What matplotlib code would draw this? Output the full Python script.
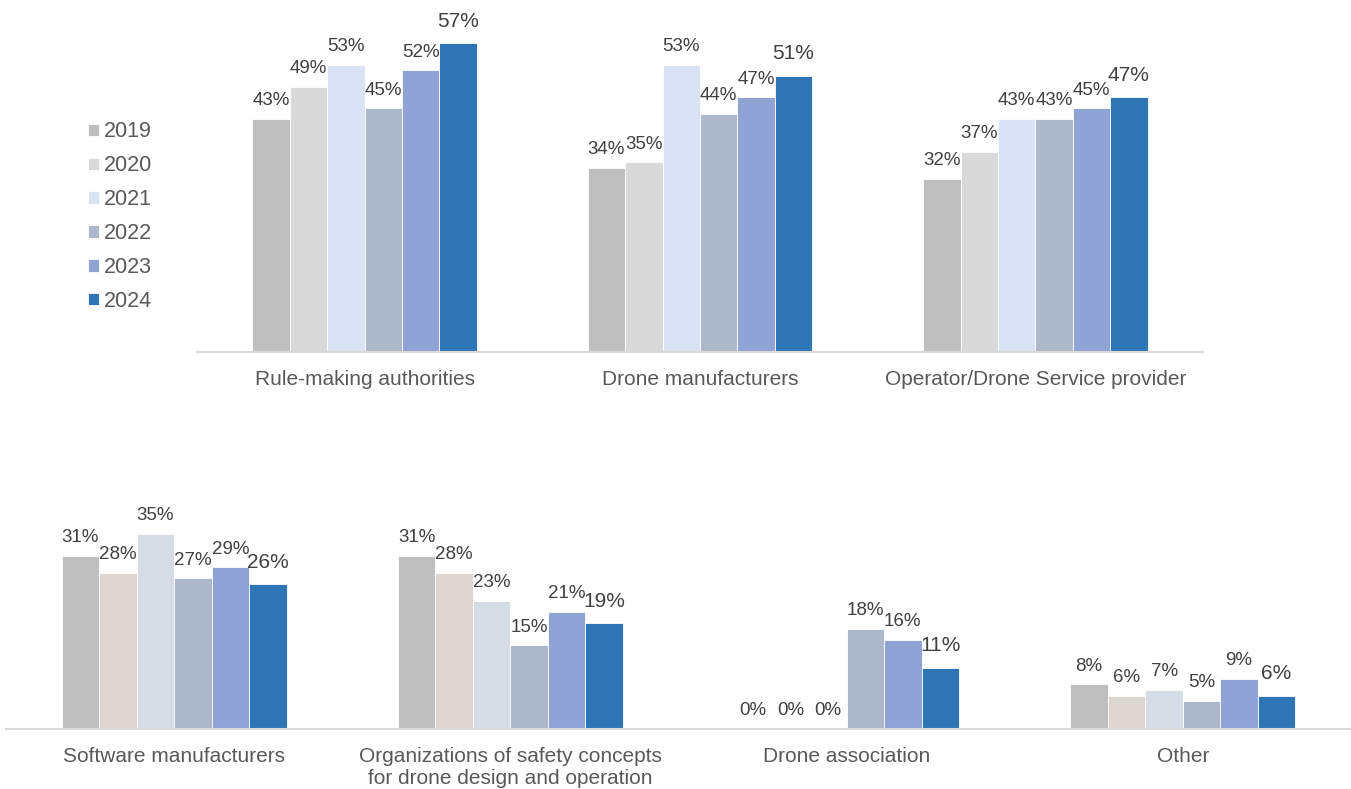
import matplotlib.pyplot as plt
import numpy as np

plt.rcParams['font.family'] = ['Liberation Sans', 'DejaVu Sans']

years = ["2019", "2020", "2021", "2022", "2023", "2024"]

top_cats = ["Rule-making authorities", "Drone manufacturers", "Operator/Drone Service provider"]
top_vals = {
    "2019": [43, 34, 32],
    "2020": [49, 35, 37],
    "2021": [53, 53, 43],
    "2022": [45, 44, 43],
    "2023": [52, 47, 45],
    "2024": [57, 51, 47],
}

bot_cats = ["Software manufacturers",
            "Organizations of safety concepts\nfor drone design and operation",
            "Drone association", "Other"]
bot_vals = {
    "2019": [31, 31, 0, 8],
    "2020": [28, 28, 0, 6],
    "2021": [35, 23, 0, 7],
    "2022": [27, 15, 18, 5],
    "2023": [29, 21, 16, 9],
    "2024": [26, 19, 11, 6],
}

top_colors = ["#BFBFBF", "#D9D9D9", "#DAE3F3", "#ADB9CA", "#8FA3D4", "#2E75B6"]
bot_colors = ["#BFBFBF", "#DED6D3", "#D6DCE5", "#ADB9CA", "#8FA3D4", "#2E75B6"]

W, H = 1351, 789
fig = plt.figure(figsize=(W / 100, H / 100), dpi=100)

ax1 = fig.add_axes([197 / W, (H - 352) / H, 1006 / W, 325 / H])
ax2 = fig.add_axes([6 / W, (H - 729) / H, 1345 / W, 223 / H])

bw = 0.1115


def draw(ax, cats, vals, colors, ymax):
    x = np.arange(len(cats))
    handles = []
    for i, y in enumerate(years):
        pos = x + (i - 2.5) * bw
        b = ax.bar(pos, vals[y], bw, color=colors[i], edgecolor="white", linewidth=0.6,
                   label=y)
        handles.append(b)
        big = (y == "2024")
        ax.bar_label(b, labels=[f"{v}%" for v in vals[y]], padding=9 if big else 7,
                     fontsize=15 if big else 13.5, color="#404040")
    ax.set_xlim(-0.5, len(cats) - 0.5)
    ax.set_ylim(0, ymax)
    ax.set_yticks([])
    ax.set_xticks(x)
    ax.set_xticklabels(cats, fontsize=15, color="#595959", linespacing=1.2)
    ax.tick_params(axis="x", length=0, pad=13)
    for s in ["top", "right", "left"]:
        ax.spines[s].set_visible(False)
    ax.spines["bottom"].set_color("#D9D9D9")
    ax.spines["bottom"].set_linewidth(1.5)
    ax.patch.set_alpha(0)
    return handles


h = draw(ax1, top_cats, top_vals, top_colors, 60)
draw(ax2, bot_cats, bot_vals, bot_colors, 40)

fig.legend(h, years, loc="upper left", bbox_to_anchor=(69 / W, 1 - 102 / H),
           frameon=False, fontsize=15.5, handlelength=0.5, handleheight=0.5,
           handletextpad=0.2, labelspacing=0.6, labelcolor="#595959")

fig.savefig("out.png", dpi=100)
